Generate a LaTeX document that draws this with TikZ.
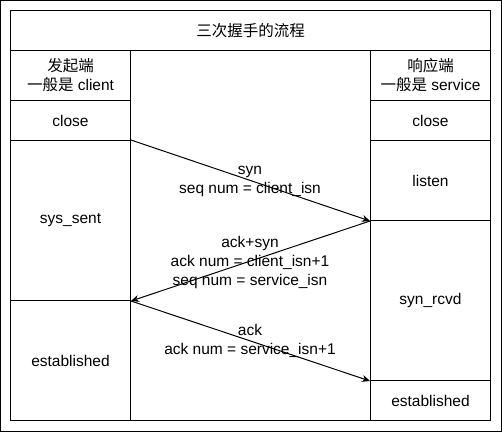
\documentclass[tikz,border=0pt]{standalone}
\usepackage{fontspec}
\setmainfont{Liberation Sans}
\newfontfamily\cjk{Noto Sans CJK SC}
\usetikzlibrary{arrows.meta}
\begin{document}
\begin{tikzpicture}[x=1pt,y=-1pt,
  cell/.style={draw,line width=1pt,anchor=north west,inner sep=0pt,align=center,font=\fontsize{15.5}{19}\selectfont},
  msg/.style={line width=1pt,-{Stealth[length=8pt,width=7pt]}},
  lbl/.style={align=center,font=\fontsize{15.5}{19}\selectfont,inner sep=0pt}]
\useasboundingbox (0,0) rectangle (502,432);
\draw[line width=1pt] (0.5,0.5) rectangle (501.5,431.5);
\node[cell,minimum width=480pt,minimum height=40pt] (title) at (10,10) {\cjk 三次握手的流程};
\node[cell,minimum width=120pt,minimum height=50pt] (lhead) at (10,50) {{\cjk 发起端}\\{\cjk 一般是} client};
\node[cell,minimum width=120pt,minimum height=40pt] (lclose) at (10,100) {close};
\node[cell,minimum width=120pt,minimum height=160pt] (syssent) at (10,140) {sys\_sent};
\node[cell,minimum width=120pt,minimum height=120pt] (lest) at (10,300) {established};
\node[cell,minimum width=240pt,minimum height=370pt] (mid) at (130,50) {};
\node[cell,minimum width=120pt,minimum height=50pt] (rhead) at (370,50) {{\cjk 响应端}\\{\cjk 一般是} service};
\node[cell,minimum width=120pt,minimum height=40pt] (rclose) at (370,100) {close};
\node[cell,minimum width=120pt,minimum height=80pt] (listen) at (370,140) {listen};
\node[cell,minimum width=120pt,minimum height=160pt] (synrcvd) at (370,220) {syn\_rcvd};
\node[cell,minimum width=120pt,minimum height=40pt] (rest) at (370,380) {established};
\draw[msg] (syssent.north east) -- (listen.south west);
\draw[msg] (listen.south west) -- (syssent.south east);
\draw[msg] (syssent.south east) -- (synrcvd.south west);
\node[lbl] (l1) at (250,181) {syn\\seq num = client\_isn};
\node[lbl] (l2) at (250,262) {ack+syn\\ack num = client\_isn+1\\seq num = service\_isn};
\node[lbl] (l3) at (250,341) {ack\\ack num = service\_isn+1};
\end{tikzpicture}
\end{document}
